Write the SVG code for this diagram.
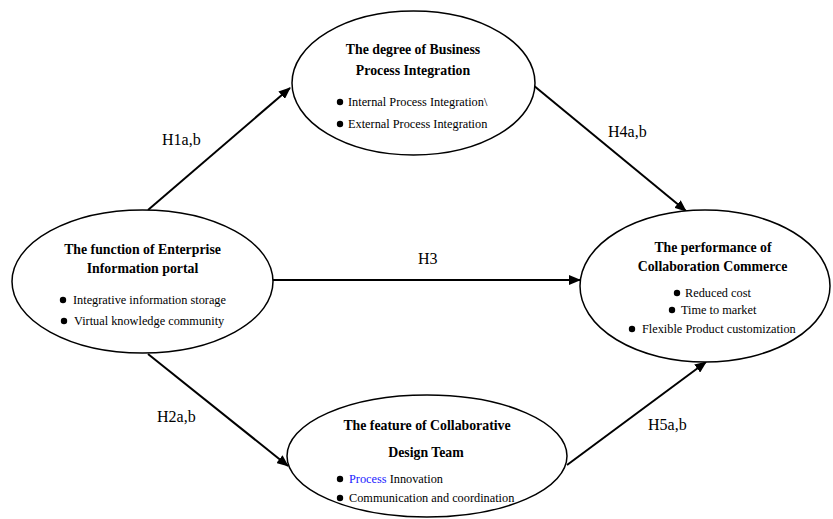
<svg xmlns="http://www.w3.org/2000/svg" width="833" height="519" viewBox="0 0 833 519">
<style>
.node ellipse{fill:#fff;stroke:#000;stroke-width:1.5}
.t{font-family:"Liberation Serif","Times New Roman",serif;font-weight:bold;font-size:13.8px;fill:#000;text-anchor:middle}
.b{font-family:"Liberation Serif","Times New Roman",serif;font-size:12.3px;fill:#000}
.lbl{font-family:"Liberation Serif","Times New Roman",serif;font-size:16px;fill:#000}
.edge{stroke:#000;stroke-width:2;fill:none;marker-end:url(#ah)}
</style>
<defs>
<marker id="ah" markerWidth="12" markerHeight="10" refX="11" refY="5" orient="auto" markerUnits="userSpaceOnUse">
<path d="M0,0 L12,5 L0,10 z" fill="#000"/>
</marker>
</defs>
<g id="connectors">
<line class="edge" x1="148" y1="210" x2="290" y2="88"/>
<line class="edge" x1="533" y1="85" x2="686" y2="211"/>
<line class="edge" x1="273" y1="280" x2="580" y2="280"/>
<line class="edge" x1="148" y1="354" x2="288" y2="466"/>
<line class="edge" x1="567" y1="465" x2="706" y2="362"/>
<text class="lbl" x="162" y="145">H1a,b</text>
<text class="lbl" x="608" y="137">H4a,b</text>
<text class="lbl" x="418" y="264">H3</text>
<text class="lbl" x="157" y="422">H2a,b</text>
<text class="lbl" x="648" y="430">H5a,b</text>
</g>
<g id="node-bpi" class="node">
<ellipse cx="413.5" cy="83" rx="121.5" ry="72"/>
<text class="t" x="413" y="54">The degree of Business</text>
<text class="t" x="413" y="75">Process Integration</text>
<circle cx="340" cy="102" r="3.2"/>
<text class="b" x="348" y="106">Internal Process Integration\</text>
<circle cx="340" cy="124" r="3.2"/>
<text class="b" x="348" y="128">External Process Integration</text>
</g>
<g id="node-eip" class="node">
<ellipse cx="142.5" cy="281.5" rx="130.5" ry="71.5"/>
<text class="t" x="142.5" y="254">The function of Enterprise</text>
<text class="t" x="142.5" y="273">Information portal</text>
<circle cx="63" cy="300" r="3.2"/>
<text class="b" x="73" y="304">Integrative information storage</text>
<circle cx="64" cy="321" r="3.2"/>
<text class="b" x="74" y="325">Virtual knowledge community</text>
</g>
<g id="node-cc" class="node">
<ellipse cx="705" cy="286" rx="125" ry="76"/>
<text class="t" x="713" y="252">The performance of</text>
<text class="t" x="712.5" y="271">Collaboration Commerce</text>
<circle cx="677" cy="293" r="3.2"/>
<text class="b" x="685" y="297">Reduced cost</text>
<circle cx="672" cy="310" r="3.2"/>
<text class="b" x="681" y="314">Time to market</text>
<circle cx="632" cy="329" r="3.2"/>
<text class="b" x="642" y="333">Flexible Product customization</text>
</g>
<g id="node-cdt" class="node">
<ellipse cx="427" cy="456" rx="140" ry="61"/>
<text class="t" x="427" y="430">The feature of Collaborative</text>
<text class="t" x="426" y="457">Design Team</text>
<circle cx="340" cy="479" r="3.2"/>
<text class="b" x="349" y="483"><tspan fill="#1a1aff">Process</tspan> Innovation</text>
<circle cx="340" cy="498" r="3.2"/>
<text class="b" x="349" y="502">Communication and coordination</text>
</g>
</svg>
